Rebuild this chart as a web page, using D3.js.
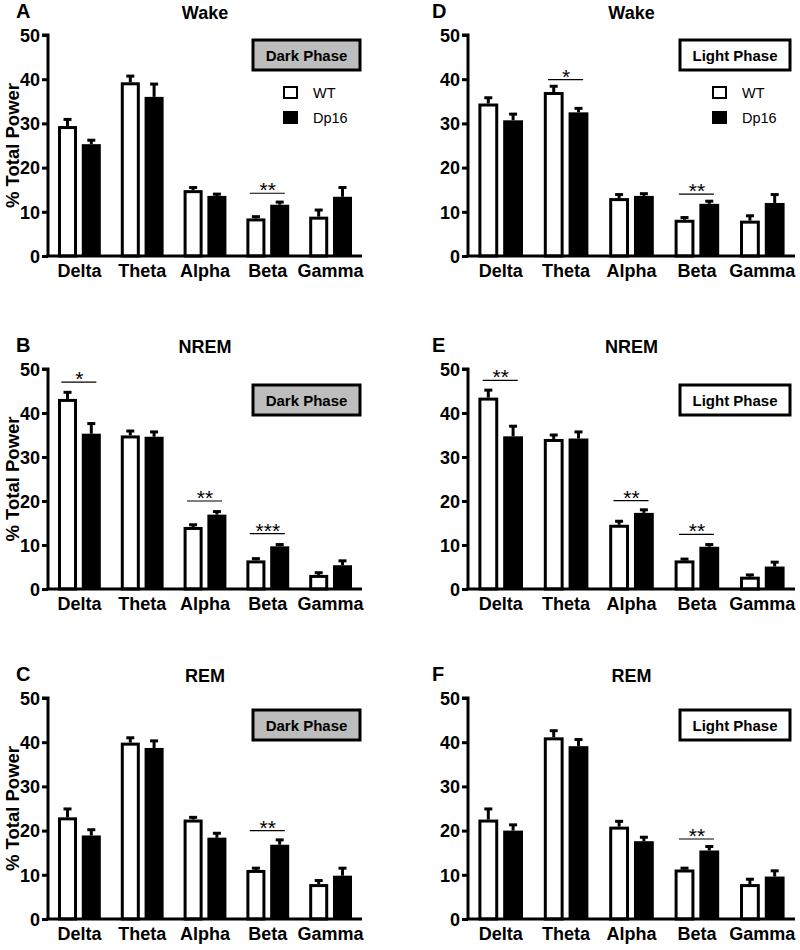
<!DOCTYPE html>
<html><head><meta charset="utf-8">
<script src="https://cdn.jsdelivr.net/npm/d3@7"></script>
<style>body{margin:0;background:#fff}svg{display:block}text{font-family:"Liberation Sans",Arial,sans-serif}</style>
</head><body>
<script>
const categories = ["Delta","Theta","Alpha","Beta","Gamma"];
const series = ["WT","Dp16"];
const yTicks = [0,10,20,30,40,50];

// A: Wake, Dark Phase
const wakeDarkWT = [29.4,39.3,14.9,8.5,8.9];
const wakeDarkWTsem = [1.5,1.4,0.6,0.4,1.5];
const wakeDarkDp16 = [25.3,36.0,13.6,11.6,13.4];
const wakeDarkDp16sem = [0.9,2.9,0.4,0.6,2.1];
const wakeDarkSig = [{cat:"Beta",label:"**",y:14.2}];
// B: NREM, Dark Phase
const nremDarkWT = [43.2,34.9,14.1,6.5,3.2];
const nremDarkWTsem = [1.5,1.0,0.5,0.4,0.5];
const nremDarkDp16 = [35.3,34.6,16.9,9.7,5.4];
const nremDarkDp16sem = [2.3,1.1,0.7,0.4,1.0];
const nremDarkSig = [{cat:"Delta",label:"*",y:47.0},{cat:"Alpha",label:"**",y:20.0},{cat:"Beta",label:"***",y:12.6}];
// C: REM, Dark Phase
const remDarkWT = [23.0,39.9,22.5,11.1,7.9];
const remDarkWTsem = [1.9,1.1,0.5,0.4,0.8];
const remDarkDp16 = [18.9,38.7,18.4,16.8,9.8];
const remDarkDp16sem = [1.3,1.6,1.0,1.1,1.7];
const remDarkSig = [{cat:"Beta",label:"**",y:20.0}];
// D: Wake, Light Phase
const wakeLightWT = [34.5,37.1,13.1,8.2,8.0];
const wakeLightWTsem = [1.3,1.3,0.8,0.5,1.1];
const wakeLightDp16 = [30.7,32.5,13.6,11.8,12.0];
const wakeLightDp16sem = [1.4,0.9,0.5,0.6,1.9];
const wakeLightSig = [{cat:"Theta",label:"*",y:39.9},{cat:"Beta",label:"**",y:14.0}];
// E: NREM, Light Phase
const nremLightWT = [43.5,34.1,14.6,6.5,2.8];
const nremLightWTsem = [1.7,0.9,0.8,0.3,0.4];
const nremLightDp16 = [34.7,34.2,17.3,9.6,5.1];
const nremLightDp16sem = [2.3,1.5,0.7,0.5,1.0];
const nremLightSig = [{cat:"Delta",label:"**",y:47.4},{cat:"Alpha",label:"**",y:20.1},{cat:"Beta",label:"**",y:12.4}];
// F: REM, Light Phase
const remLightWT = [22.5,41.1,20.9,11.2,7.9];
const remLightWTsem = [2.4,1.5,1.2,0.3,1.1];
const remLightDp16 = [20.0,39.1,17.6,15.5,9.6];
const remLightDp16sem = [1.3,1.5,0.9,0.9,1.3];
const remLightSig = [{cat:"Beta",label:"**",y:18.1}];

const panels = [
  {letter:"A",title:"Wake",phase:"Dark Phase",wt:wakeDarkWT,wts:wakeDarkWTsem,dp:wakeDarkDp16,dps:wakeDarkDp16sem,sig:wakeDarkSig,col:0,row:0,legend:true},
  {letter:"B",title:"NREM",phase:"Dark Phase",wt:nremDarkWT,wts:nremDarkWTsem,dp:nremDarkDp16,dps:nremDarkDp16sem,sig:nremDarkSig,col:0,row:1},
  {letter:"C",title:"REM",phase:"Dark Phase",wt:remDarkWT,wts:remDarkWTsem,dp:remDarkDp16,dps:remDarkDp16sem,sig:remDarkSig,col:0,row:2},
  {letter:"D",title:"Wake",phase:"Light Phase",wt:wakeLightWT,wts:wakeLightWTsem,dp:wakeLightDp16,dps:wakeLightDp16sem,sig:wakeLightSig,col:1,row:0,legend:true},
  {letter:"E",title:"NREM",phase:"Light Phase",wt:nremLightWT,wts:nremLightWTsem,dp:nremLightDp16,dps:nremLightDp16sem,sig:nremLightSig,col:1,row:1},
  {letter:"F",title:"REM",phase:"Light Phase",wt:remLightWT,wts:remLightWTsem,dp:remLightDp16,dps:remLightDp16sem,sig:remLightSig,col:1,row:2}
];

const W = 800, H = 950;
const svg = d3.select("body").append("svg").attr("width",W).attr("height",H);

const colX = [[48,362],[468,795]];
const rowY = [[35,256],[369,589],[698,919]];

panels.forEach(p => {
  const [x0,x1] = colX[p.col];
  const [yTop,yBot] = rowY[p.row];
  const g = svg.append("g");
  const x = d3.scaleBand().domain(categories).range([x0,x1]);
  const xs = d3.scaleBand().domain(series).range([0,x.bandwidth()]).paddingInner(0.2).paddingOuter(0.42);
  const y = d3.scaleLinear().domain([0,50]).range([yBot,yTop]);

  // Panel letter & title
  g.append("text").attr("x",x0-32 + (p.col?-4:0)).attr("y",yTop-17).attr("font-size",20).attr("font-weight","bold").text(p.letter);
  g.append("text").attr("x",(x0+x1)/2).attr("y",yTop-16).attr("text-anchor","middle").attr("font-size",18).attr("font-weight","bold").text(p.title);

  // Bars
  const rows = categories.map((c,i)=>({c, wt:p.wt[i], wts:p.wts[i], dp:p.dp[i], dps:p.dps[i]}));
  const bw = xs.bandwidth();
  rows.forEach(r => {
    [["WT",r.wt,r.wts],["Dp16",r.dp,r.dps]].forEach(([s,v,e]) => {
      const cx = x(r.c)+xs(s)+bw/2;
      g.append("line").attr("x1",cx).attr("x2",cx).attr("y1",y(v)).attr("y2",y(v+e)).attr("stroke","#000").attr("stroke-width",3);
      g.append("line").attr("x1",cx-4).attr("x2",cx+4).attr("y1",y(v+e)).attr("y2",y(v+e)).attr("stroke","#000").attr("stroke-width",3);
    });
    g.append("rect").attr("x",x(r.c)+xs("WT")+1.5).attr("width",bw-3)
      .attr("y",y(r.wt)+1.5).attr("height",y(0)-y(r.wt)-1.5)
      .attr("fill","#fff").attr("stroke","#000").attr("stroke-width",3);
    g.append("rect").attr("x",x(r.c)+xs("Dp16")).attr("width",bw)
      .attr("y",y(r.dp)).attr("height",y(0)-y(r.dp)).attr("fill","#000");
  });

  // Significance
  p.sig.forEach(s => {
    const cx = x(s.cat)+x.bandwidth()/2;
    g.append("line").attr("x1",cx-18).attr("x2",cx+17).attr("y1",y(s.y)).attr("y2",y(s.y)).attr("stroke","#000").attr("stroke-width",1.2);
    g.append("text").attr("x",cx).attr("y",y(s.y)+4).attr("text-anchor","middle").attr("font-size",21).text(s.label);
  });

  // Axes
  const ya = d3.axisLeft(y).tickValues(yTicks).tickSize(6).tickPadding(2);
  const yg = g.append("g").attr("transform",`translate(${x0},0)`).call(ya);
  yg.select(".domain").attr("stroke-width",3).attr("d",`M-6,${yTop}H0V${yBot}`);
  yg.selectAll(".tick line").attr("stroke-width",3);
  yg.selectAll(".tick text").attr("font-size",18).attr("font-weight","bold").attr("fill","#000").attr("font-family","Liberation Sans, Arial, sans-serif").attr("dy","0.35em");

  const xa = d3.axisBottom(x).tickSize(0).tickPadding(8);
  const xg = g.append("g").attr("transform",`translate(0,${yBot})`).call(xa);
  xg.select(".domain").attr("stroke-width",3).attr("d",`M${x0-1.5},0H${x1}`);
  xg.selectAll(".tick text").attr("font-size",18).attr("font-weight","bold").attr("fill","#000").attr("font-family","Liberation Sans, Arial, sans-serif");

  if (p.col===0) {
    g.append("text").attr("transform",`translate(19,${(yTop+yBot)/2}) rotate(-90)`).attr("text-anchor","middle")
      .attr("font-size",18.5).attr("font-weight","bold").text("% Total Power");
  }

  // Phase box
  const bx = p.col===0 ? 253 : 680, bwid = p.col===0 ? 107 : 110;
  const by = yTop + (p.row===0 ? 5 : (p.row===1 ? 16 : 12));
  g.append("rect").attr("x",bx).attr("y",by).attr("width",bwid).attr("height",30)
    .attr("fill",p.phase==="Dark Phase" ? "#bdbdbd" : "#fff").attr("stroke","#000").attr("stroke-width",3);
  g.append("text").attr("x",bx+bwid/2).attr("y",by+20.5).attr("text-anchor","middle").attr("font-size",15).attr("font-weight","bold").text(p.phase);

  if (p.legend) {
    const lx = p.col===0 ? 284 : 713;
    series.forEach((s,i) => {
      const ly = yTop + 52 + i*25;
      g.append("rect").attr("x",lx).attr("y",ly).attr("width",13).attr("height",11)
        .attr("fill",s==="WT"?"#fff":"#000").attr("stroke","#000").attr("stroke-width",2);
      g.append("text").attr("x",lx+29).attr("y",ly+11).attr("font-size",14.5).text(s);
    });
  }
});
</script>
</body></html>
